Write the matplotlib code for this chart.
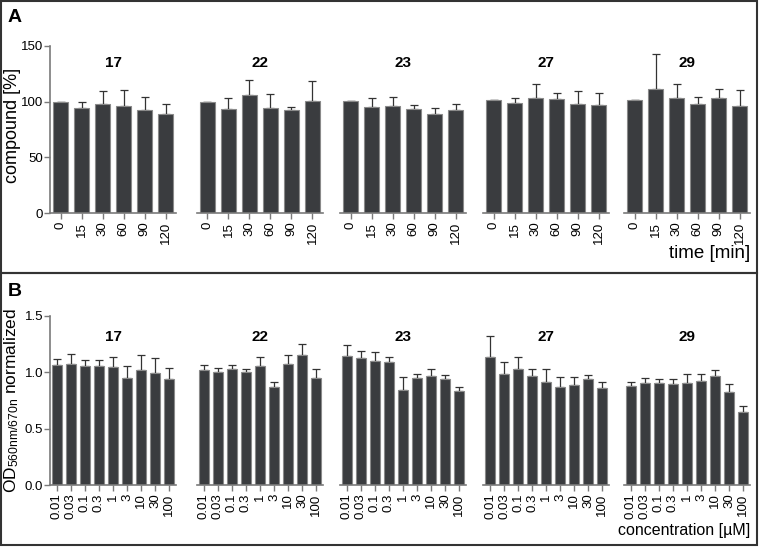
import matplotlib.pyplot as plt
import numpy as np
from matplotlib.patches import Rectangle

plt.rcParams['font.family'] = ['Liberation Sans', 'DejaVu Sans']
plt.rcParams['mathtext.default'] = 'regular'

# data
compounds = ['17', '22', '23', '27', '29']
time_labels = ['0', '15', '30', '60', '90', '120']
conc_labels = ['0.01', '0.03', '0.1', '0.3', '1', '3', '10', '30', '100']

# panel A: compound remaining [%]
a_17 = [100, 94, 98, 96, 92.5, 89]
a_22 = [100, 93, 106, 94.5, 92.5, 100.5]
a_23 = [100.5, 95, 96, 93.5, 88.5, 92.5]
a_27 = [101, 98.5, 103, 102.5, 98, 97]
a_29 = [101, 111, 103, 98, 103, 96]
a_17_err = [0, 6, 11.5, 14, 12, 9]
a_22_err = [0, 10, 13, 12.5, 3, 17.5]
a_23_err = [0, 8, 8, 3, 5.5, 5.5]
a_27_err = [0, 5, 13, 5.5, 11.5, 11]
a_29_err = [0, 31.5, 13, 6, 8.5, 14]

# panel B: OD normalized
b_17 = [1.06, 1.07, 1.05, 1.05, 1.045, 0.95, 1.02, 0.99, 0.94]
b_22 = [1.02, 1.0, 1.03, 1.0, 1.05, 0.87, 1.075, 1.15, 0.95]
b_23 = [1.14, 1.125, 1.10, 1.09, 0.845, 0.95, 0.97, 0.935, 0.835]
b_27 = [1.13, 0.98, 1.025, 0.97, 0.91, 0.865, 0.885, 0.935, 0.86]
b_29 = [0.88, 0.90, 0.905, 0.895, 0.90, 0.92, 0.97, 0.825, 0.645]
b_17_err = [0.06, 0.09, 0.06, 0.06, 0.085, 0.10, 0.135, 0.135, 0.10]
b_22_err = [0.04, 0.04, 0.035, 0.025, 0.08, 0.04, 0.08, 0.10, 0.08]
b_23_err = [0.10, 0.06, 0.075, 0.04, 0.115, 0.03, 0.055, 0.04, 0.03]
b_27_err = [0.19, 0.11, 0.11, 0.055, 0.12, 0.09, 0.07, 0.04, 0.055]
b_29_err = [0.035, 0.045, 0.035, 0.045, 0.08, 0.065, 0.045, 0.07, 0.055]

A_vals = [a_17, a_22, a_23, a_27, a_29]
A_errs = [a_17_err, a_22_err, a_23_err, a_27_err, a_29_err]
B_vals = [b_17, b_22, b_23, b_27, b_29]
B_errs = [b_17_err, b_22_err, b_23_err, b_27_err, b_29_err]

# layout (pixels)
W, H = 760, 550
x_starts = [50, 197, 340, 483, 624]
ax_w = 126
bar_c = '#3a3c3f'
edge_c = '#8a8a8a'
spine_c = '#7a7a7a'

fig = plt.figure(figsize=(7.6, 5.5), dpi=100, facecolor='w')


def draw_panel(vals, errs, labels, y_top_px, y_bot_px, ylim, yticks, yticklabels, title_y):
    for i, (v, e) in enumerate(zip(vals, errs)):
        ax = fig.add_axes([x_starts[i] / W, (H - y_bot_px) / H, ax_w / W, (y_bot_px - y_top_px) / H])
        x = np.arange(len(v))
        ax.bar(x, v, width=0.72, color=bar_c, edgecolor=edge_c, linewidth=0.8, zorder=2)
        ax.errorbar(x, v, yerr=[np.zeros(len(e)), e], fmt='none', ecolor='#333333',
                    elinewidth=0.9, capsize=3, capthick=0.9, zorder=1)
        ax.set_xlim(-0.5, len(v) - 0.5)
        ax.set_ylim(*ylim)
        ax.set_xticks(x)
        ax.set_xticklabels(labels, rotation=90, fontsize=9.5)
        for s in ['top', 'right']:
            ax.spines[s].set_visible(False)
        ax.spines['bottom'].set_color(spine_c)
        ax.spines['bottom'].set_linewidth(1.2)
        ax.tick_params(axis='x', colors=spine_c, labelcolor='black', length=4, width=1, pad=2)
        if i == 0:
            ax.spines['left'].set_color(spine_c)
            ax.spines['left'].set_linewidth(1.2)
            ax.set_yticks(yticks)
            ax.set_yticklabels(yticklabels, fontsize=9.5)
            ax.tick_params(axis='y', colors=spine_c, labelcolor='black', length=4, width=1, pad=1)
        else:
            ax.spines['left'].set_visible(False)
            ax.set_yticks([])
        ax.text(0.5, title_y, compounds[i], transform=ax.transAxes, ha='center', va='center',
                fontsize=11, fontweight='bold')


draw_panel(A_vals, A_errs, time_labels, 45.7, 213.3, (0, 150), [0, 50, 100, 150],
           ['0', '50', '100', '150'], 0.897)
draw_panel(B_vals, B_errs, conc_labels, 315.7, 485, (0, 1.5), [0, 0.5, 1.0, 1.5],
           ['0.0', '0.5', '1.0', '1.5'], 0.874)

# y axis titles
fig.text(13 / W, 1 - 125 / H, 'compound [%]', rotation=90, ha='center', va='center', fontsize=13)
fig.text(12 / W, 1 - 401 / H, r'OD$_{560nm/670n}$ normalized', rotation=90, ha='center',
         va='center', fontsize=12.5)

# x axis titles
fig.text(750 / W, 1 - 253 / H, 'time [min]', ha='right', va='center', fontsize=13.5)
fig.text(750 / W, 1 - 530 / H, 'concentration [\u00b5M]', ha='right', va='center', fontsize=11.5)

# panel letters
fig.text(8 / W, 1 - 18 / H, 'A', ha='left', va='center', fontsize=14, fontweight='bold')
fig.text(8 / W, 1 - 291 / H, 'B', ha='left', va='center', fontsize=14, fontweight='bold')

# panel frames
for y0, y1 in [(1, 273), (273, 545)]:
    fig.add_artist(Rectangle((1 / W, 1 - y1 / H), 756 / W, (y1 - y0) / H, transform=fig.transFigure,
                             fill=False, edgecolor='#333333', linewidth=1.5))

plt.savefig('out.png', dpi=100)
